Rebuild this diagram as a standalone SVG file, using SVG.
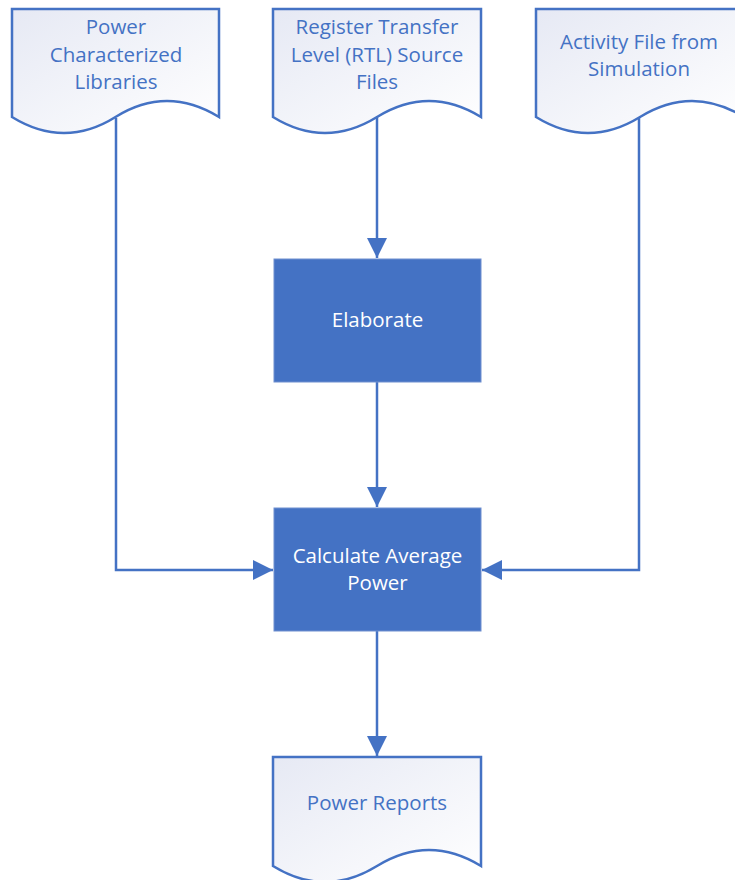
<svg xmlns="http://www.w3.org/2000/svg" width="735" height="880" viewBox="0 0 735 880">
<defs>
<linearGradient id="docfill" x1="0" y1="0" x2="1" y2="1">
<stop offset="0" stop-color="#E6E9F4"/>
<stop offset="1" stop-color="#FFFFFF"/>
</linearGradient>
<marker id="arr" viewBox="0 0 10 10" refX="10" refY="5" markerWidth="8" markerHeight="8" markerUnits="strokeWidth" orient="auto">
<path d="M0,0 L10,5 L0,10 Z" fill="#4472C4"/>
</marker>
</defs>
<style>
.doc{fill:url(#docfill);stroke:#4472C4;stroke-width:2.5}
.proc{fill:#4472C4;stroke:#6F8FCF;stroke-width:1}
.dt{font-family:"Open Sans","Liberation Sans",sans-serif;font-size:20.5px;fill:#4472C4;text-anchor:middle}
.pt{font-family:"Open Sans","Liberation Sans",sans-serif;font-size:20.5px;fill:#FFFFFF;text-anchor:middle}
.conn{fill:none;stroke:#4472C4;stroke-width:2.5;marker-end:url(#arr)}
</style>
<rect width="735" height="880" fill="#FFFFFF"/>
<g id="connectors">
<path class="conn" d="M116,118 V570 H273"/>
<path class="conn" d="M377,117 V258"/>
<path class="conn" d="M377,382 V507"/>
<path class="conn" d="M639,118 V570 H482"/>
<path class="conn" d="M377,631 V756"/>
</g>
<g id="doc-power-libs">
<path class="doc" d="M12,9 H219 V117 Q193,101 167,101 Q141,101 115.5,117 Q90,133 64,133 Q38,133 12,117 Z"/>
<text class="dt" x="116" y="34">Power</text>
<text class="dt" x="116" y="62">Characterized</text>
<text class="dt" x="116" y="89">Libraries</text>
</g>
<g id="doc-rtl">
<path class="doc" d="M273,9 H481 V117 Q455,101 429,101 Q403,101 377,117 Q351,133 325,133 Q299,133 273,117 Z"/>
<text class="dt" x="377" y="34">Register Transfer</text>
<text class="dt" x="377" y="62">Level (RTL) Source</text>
<text class="dt" x="377" y="89">Files</text>
</g>
<g id="doc-activity">
<path class="doc" d="M536,9 H744 V117 Q718,101 692,101 Q666,101 640,117 Q614,133 588,133 Q562,133 536,117 Z"/>
<text class="dt" x="639" y="49">Activity File from</text>
<text class="dt" x="639" y="76">Simulation</text>
</g>
<g id="elaborate">
<rect class="proc" x="274" y="259" width="207" height="123"/>
<text class="pt" x="377.5" y="327">Elaborate</text>
</g>
<g id="calculate">
<rect class="proc" x="274" y="508" width="207" height="123"/>
<text class="pt" x="377.5" y="563">Calculate Average</text>
<text class="pt" x="377.5" y="590">Power</text>
</g>
<g id="doc-reports">
<path class="doc" d="M273,757 H481 V866 Q455,850 429,850 Q403,850 377,866 Q351,882 325,882 Q299,882 273,866 Z"/>
<text class="dt" x="377" y="810">Power Reports</text>
</g>
</svg>
